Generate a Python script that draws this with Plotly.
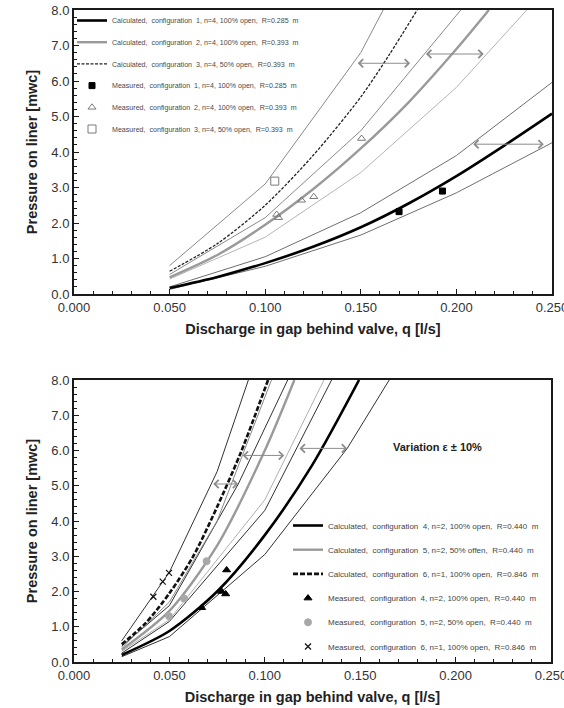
import plotly.graph_objects as go

# ---------------- TOP CHART DATA ----------------
# Configuration 1 (n=4, 100% open, R=0.285 m)
q_c1 = [0.05, 0.075, 0.10, 0.125, 0.15, 0.175, 0.20, 0.225, 0.25]
p_c1 = [0.17, 0.48, 0.87, 1.33, 1.88, 2.55, 3.32, 4.18, 5.08]
q_c1_env = [0.05, 0.10, 0.15, 0.20, 0.25]
p_c1_hi = [0.20, 1.05, 2.29, 3.90, 5.96]
p_c1_lo = [0.13, 0.78, 1.66, 2.85, 4.26]

# Configuration 2 (n=4, 100% open, R=0.393 m)
q_c2 = [0.05, 0.075, 0.10, 0.125, 0.15, 0.175, 0.20, 0.217]
p_c2 = [0.47, 1.10, 1.95, 2.95, 4.10, 5.40, 6.90, 8.00]
q_c2_hi = [0.05, 0.10, 0.15, 0.2023]
p_c2_hi = [0.55, 2.15, 4.60, 8.00]
q_c2_lo = [0.05, 0.10, 0.15, 0.20, 0.2368]
p_c2_lo = [0.42, 1.60, 3.42, 5.82, 8.00]

# Configuration 3 (n=4, 50% open, R=0.393 m)
q_c3 = [0.05, 0.075, 0.10, 0.125, 0.15, 0.165, 0.1795]
p_c3 = [0.64, 1.42, 2.50, 3.90, 5.55, 6.75, 8.00]
q_c3_hi = [0.05, 0.10, 0.15, 0.1617]
p_c3_hi = [0.80, 3.10, 6.80, 8.00]

# Measured points (top)
q_m1 = [0.170, 0.1927]
p_m1 = [2.32, 2.90]
q_m2 = [0.106, 0.107, 0.119, 0.1254, 0.1504]
p_m2 = [2.24, 2.15, 2.64, 2.74, 4.38]
q_m3 = [0.105]
p_m3 = [3.18]

# Variation arrows (top)
arr_top_p = [6.50, 6.76, 4.22]
arr_top_q0 = [0.1476, 0.1833, 0.2080]
arr_top_q1 = [0.1758, 0.2143, 0.2457]

# ---------------- BOTTOM CHART DATA ----------------
# Configuration 4 (n=2, 100% open, R=0.440 m)
q_c4 = [0.025, 0.05, 0.075, 0.10, 0.125, 0.1494]
p_c4 = [0.20, 0.88, 2.00, 3.60, 5.60, 8.00]
q_c4_hi = [0.025, 0.05, 0.10, 0.135]
p_c4_hi = [0.25, 1.15, 4.30, 8.00]
q_c4_lo = [0.025, 0.05, 0.10, 0.1432, 0.1652]
p_c4_lo = [0.15, 0.72, 3.05, 6.06, 8.00]

# Configuration 5 (n=2, 50% open, R=0.440 m)
q_c5 = [0.025, 0.05, 0.075, 0.10, 0.1155]
p_c5 = [0.35, 1.45, 3.30, 6.00, 8.00]
q_c5_hi = [0.025, 0.05, 0.075, 0.1035]
p_c5_hi = [0.40, 1.70, 4.00, 8.00]
q_c5_lo = [0.025, 0.05, 0.10, 0.131]
p_c5_lo = [0.30, 1.20, 4.60, 8.00]

# Configuration 6 (n=1, 100% open, R=0.846 m)
q_c6 = [0.025, 0.0375, 0.05, 0.0625, 0.075, 0.0875, 0.1017]
p_c6 = [0.50, 1.10, 1.95, 3.00, 4.40, 5.95, 8.00]
q_c6_hi = [0.025, 0.05, 0.075, 0.0914]
p_c6_hi = [0.60, 2.55, 5.40, 8.00]
q_c6_lo = [0.025, 0.05, 0.0861, 0.112]
p_c6_lo = [0.45, 1.60, 5.05, 8.00]

# Measured points (bottom)
q_m4 = [0.0669, 0.0774, 0.0795, 0.0800]
p_m4 = [1.54, 2.00, 1.93, 2.61]
q_m5 = [0.0498, 0.0577, 0.0695]
p_m5 = [1.30, 1.80, 2.86]
q_m6 = [0.0416, 0.0465, 0.0498]
p_m6 = [1.85, 2.28, 2.53]

# Variation arrows (bottom)
arr_bot_p = [5.05, 5.86, 6.06]
arr_bot_q0 = [0.0722, 0.0876, 0.1174]
arr_bot_q1 = [0.0861, 0.1102, 0.1432]

x_ticks = [0.0, 0.05, 0.10, 0.15, 0.20, 0.25]
y_ticks = [0, 1, 2, 3, 4, 5, 6, 7, 8]

FONT = "Arial, Liberation Sans, sans-serif"
W, H = 564, 708

fig = go.Figure()


def line(x, y, xa, ya, color, width, dash="solid", name=None, legend=None, group=None, smooth=False):
    fig.add_trace(go.Scatter(
        x=x, y=y, mode="lines", xaxis=xa, yaxis=ya,
        line=dict(color=color, width=width, dash=dash,
                  shape="spline" if smooth else "linear", smoothing=0.8),
        name=name, showlegend=name is not None,
        legend=legend, legendgroup=group, hoverinfo="skip"))


def marks(x, y, xa, ya, symbol, color, size, name, legend, group, lw=1, lc=None):
    fig.add_trace(go.Scatter(
        x=x, y=y, mode="markers", xaxis=xa, yaxis=ya,
        marker=dict(symbol=symbol, color=color, size=size,
                    line=dict(width=lw, color=lc if lc else color)),
        name=name, legend=legend, legendgroup=group, hoverinfo="skip"))


# ----- top chart -----
line(q_c1_env, p_c1_hi, "x", "y", "#6e6e6e", 1)
line(q_c1_env, p_c1_lo, "x", "y", "#6e6e6e", 1)
line(q_c2_hi, p_c2_hi, "x", "y", "#8a8a8a", 1)
line(q_c2_lo, p_c2_lo, "x", "y", "#b5b5b5", 1)
line(q_c3_hi, p_c3_hi, "x", "y", "#8a8a8a", 1)
line(q_c1, p_c1, "x", "y", "#000000", 2.6, smooth=True,
     name="Calculated,  configuration  1, n=4, 100% open,  R=0.285  m", legend="legend", group="a1")
line(q_c2, p_c2, "x", "y", "#9a9a9a", 2.4, smooth=True,
     name="Calculated,  configuration  2, n=4, 100% open,  R=0.393  m", legend="legend", group="a2")
line(q_c3, p_c3, "x", "y", "#222222", 1.3, dash="3px,1.5px", smooth=True,
     name="Calculated,  configuration  3, n=4, 50% open,  R=0.393  m", legend="legend", group="a3")
marks(q_m1, p_m1, "x", "y", "square", "#000000", 6,
      "Measured,  configuration  1, n=4, 100% open,  R=0.285  m", "legend", "a4")
marks(q_m2, p_m2, "x", "y", "triangle-up-open", "#7a7a7a", 7,
      "Measured,  configuration  2, n=4, 100% open,  R=0.393  m", "legend", "a5")
marks(q_m3, p_m3, "x", "y", "square-open", "#7a7a7a", 8,
      "Measured,  configuration  3, n=4, 50% open,  R=0.393  m", "legend", "a6")

# ----- bottom chart -----
line(q_c6_hi, p_c6_hi, "x2", "y2", "#1a1a1a", 0.9)
line(q_c6_lo, p_c6_lo, "x2", "y2", "#1a1a1a", 0.9)
line(q_c5_hi, p_c5_hi, "x2", "y2", "#8a8a8a", 1)
line(q_c5_lo, p_c5_lo, "x2", "y2", "#b0b0b0", 1)
line(q_c4_hi, p_c4_hi, "x2", "y2", "#1a1a1a", 0.9)
line(q_c4_lo, p_c4_lo, "x2", "y2", "#1a1a1a", 0.9)
line(q_c4, p_c4, "x2", "y2", "#000000", 2.6, smooth=True,
     name="Calculated,  configuration  4, n=2, 100% open,  R=0.440  m", legend="legend2", group="b1")
line(q_c5, p_c5, "x2", "y2", "#9a9a9a", 2.4, smooth=True,
     name="Calculated,  configuration  5, n=2, 50% offen,  R=0.440  m", legend="legend2", group="b2")
line(q_c6, p_c6, "x2", "y2", "#111111", 2.6, dash="5px,2px", smooth=True,
     name="Calculated,  configuration  6, n=1, 100% open,  R=0.846  m", legend="legend2", group="b3")
marks(q_m4, p_m4, "x2", "y2", "triangle-up", "#000000", 7,
      "Measured,  configuration  4, n=2, 100% open,  R=0.440  m", "legend2", "b4")
marks(q_m5, p_m5, "x2", "y2", "circle", "#a8a8a8", 7,
      "Measured,  configuration  5, n=2, 50% open,  R=0.440  m", "legend2", "b5")
marks(q_m6, p_m6, "x2", "y2", "x-thin-open", "#111111", 6,
      "Measured,  configuration  6, n=1, 100% open,  R=0.846  m", "legend2", "b6", lw=1.2)

# ----- arrows -----
annotations = []
for xa, ya, ps, q0s, q1s in [("x", "y", arr_top_p, arr_top_q0, arr_top_q1),
                             ("x2", "y2", arr_bot_p, arr_bot_q0, arr_bot_q1)]:
    for p, q0, q1 in zip(ps, q0s, q1s):
        annotations.append(dict(
            x=q1, y=p, ax=q0, ay=p, xref=xa, yref=ya, axref=xa, ayref=ya,
            text="", showarrow=True, arrowside="end+start",
            arrowhead=4, startarrowhead=4, arrowsize=1.6, startarrowsize=1.6,
            arrowwidth=1, arrowcolor="#8c8c8c", standoff=0, startstandoff=0))

annotations.append(dict(
    x=437 / W, y=1 - 447 / H, xref="paper", yref="paper",
    xanchor="center", yanchor="middle",
    text="<b>Variation \u03b5 \u00b1 10%</b>", showarrow=False,
    font=dict(family=FONT, size=11, color="#222222")))

axis_common = dict(
    showline=True, linecolor="#1a1a1a", linewidth=2, mirror=True,
    ticks="inside", ticklen=5, tickwidth=1, tickcolor="#1a1a1a",
    showgrid=False, zeroline=False, automargin=False,
    tickfont=dict(family=FONT, size=13, color="#333333"),
)
xa_common = dict(axis_common, range=[0, 0.25], tickvals=x_ticks, tickformat=".3f",
                 ticklabeloverflow="allow",
                 minor=dict(dtick=0.01, ticks="inside", ticklen=3, tickcolor="#1a1a1a", showgrid=False),
                 title=dict(text="<b>Discharge in gap behind valve, q [l/s]</b>",
                            font=dict(family=FONT, size=14.5, color="#222222"), standoff=10))
ya_common = dict(axis_common, range=[0, 8], tickvals=y_ticks, tickformat=".1f",
                 minor=dict(dtick=0.2, ticks="inside", ticklen=3, tickcolor="#1a1a1a", showgrid=False),
                 title=dict(text="<b>Pressure on liner [mwc]</b>",
                            font=dict(family=FONT, size=14.5, color="#222222"), standoff=10))

fig.update_layout(
    template="none",
    width=W, height=H, margin=dict(l=0, r=0, t=0, b=0, autoexpand=False),
    paper_bgcolor="white", plot_bgcolor="white",
    font=dict(family=FONT),
    xaxis=dict(xa_common, domain=[74 / W, 552 / W], anchor="y"),
    yaxis=dict(ya_common, domain=[1 - 294 / H, 1 - 10 / H], anchor="x"),
    xaxis2=dict(xa_common, domain=[74 / W, 551 / W], anchor="y2"),
    yaxis2=dict(ya_common, domain=[1 - 662 / H, 1 - 380 / H], anchor="x2"),
    legend=dict(x=72 / W, y=1 - 6 / H, xanchor="left", yanchor="top",
                bgcolor="rgba(0,0,0,0)", tracegroupgap=2.7,
                font=dict(family=FONT, size=7.1, color="#4a4a4a")),
    legend2=dict(x=288 / W, y=1 - 511 / H, xanchor="left", yanchor="top",
                 bgcolor="rgba(0,0,0,0)", tracegroupgap=5.2,
                 font=dict(family=FONT, size=8, color="#444444")),
    annotations=annotations,
    showlegend=True,
)

fig.write_html("out.html")
